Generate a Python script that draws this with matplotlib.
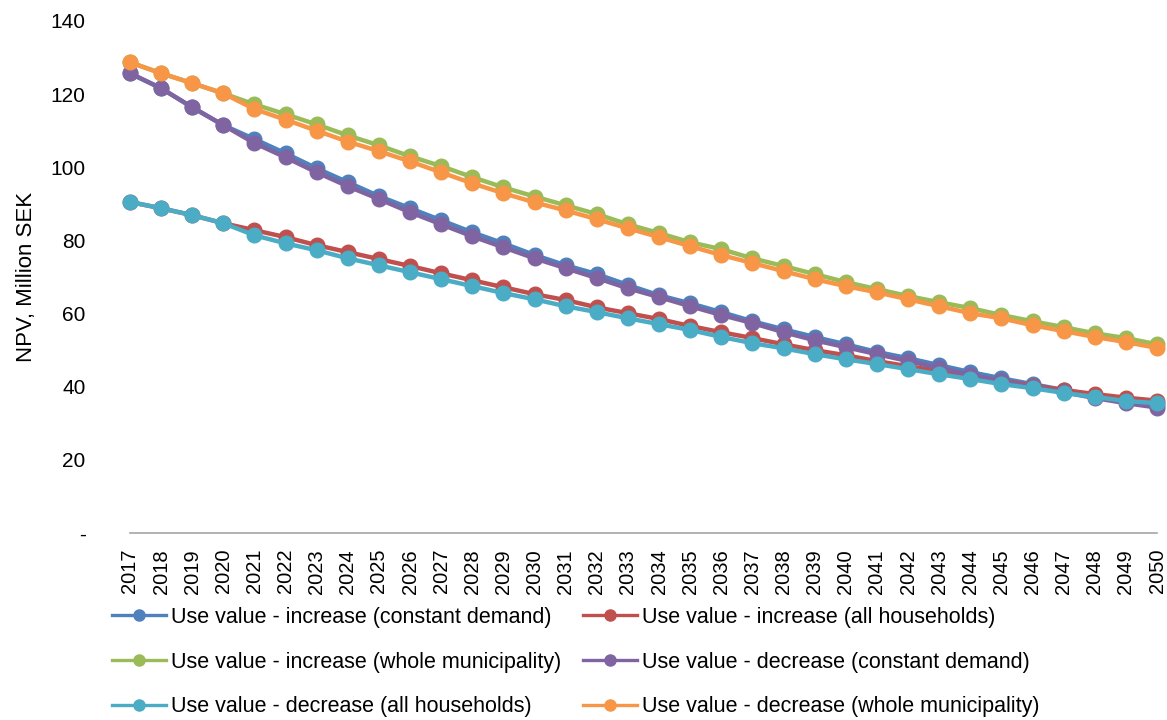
import matplotlib
matplotlib.use('Agg')
import matplotlib.pyplot as plt
from matplotlib.lines import Line2D
import numpy as np

plt.rcParams['font.family'] = ['Liberation Sans', 'DejaVu Sans']

# NPV per year, million SEK
years = list(range(2017, 2051))

inc_constant = [125.7, 121.6, 116.4, 111.5, 107.7, 103.8, 99.7, 95.9, 92.1, 88.8,
                85.5, 82.2, 79.2, 76.0, 73.2, 70.8, 67.8, 65.0, 62.8, 60.4,
                57.9, 55.7, 53.6, 51.6, 49.5, 47.8, 45.9, 44.0, 42.3, 40.7,
                39.1, 37.7, 36.3, 35.0]
inc_households = [90.5, 88.8, 86.9, 84.7, 82.8, 80.9, 78.7, 76.8, 74.9, 73.0,
                  71.0, 69.1, 67.2, 65.3, 63.7, 61.7, 60.1, 58.5, 56.6, 54.9,
                  53.3, 51.6, 50.0, 48.6, 47.0, 45.6, 44.3, 42.9, 41.6, 40.3,
                  39.1, 38.0, 37.0, 36.2]
inc_municipality = [128.7, 125.7, 123.0, 120.2, 117.2, 114.5, 111.7, 108.7, 106.0, 103.0,
                    100.3, 97.3, 94.5, 92.0, 89.6, 87.2, 84.4, 82.0, 79.5, 77.6,
                    75.1, 73.0, 70.8, 68.6, 66.7, 64.8, 63.1, 61.5, 59.6, 57.9,
                    56.3, 54.6, 53.3, 51.6]
dec_constant = [125.7, 121.6, 116.4, 111.5, 106.6, 102.7, 98.6, 94.8, 91.3, 87.7,
                84.4, 81.1, 78.1, 75.1, 72.4, 69.7, 66.9, 64.5, 62.0, 59.6,
                57.4, 54.9, 52.7, 50.8, 48.9, 47.0, 45.1, 43.2, 41.5, 39.9,
                38.5, 36.9, 35.5, 34.3]
dec_households = [90.5, 88.8, 86.9, 84.7, 81.4, 79.2, 77.3, 75.1, 73.2, 71.3,
                  69.4, 67.5, 65.6, 63.9, 62.0, 60.4, 58.7, 57.1, 55.5, 53.6,
                  51.9, 50.5, 48.9, 47.5, 46.2, 44.8, 43.4, 42.1, 40.7, 39.6,
                  38.3, 37.2, 36.1, 35.5]
dec_municipality = [128.7, 125.7, 123.0, 120.2, 115.9, 113.0, 110.0, 107.0, 104.4, 101.6,
                    98.6, 95.6, 92.9, 90.4, 88.2, 85.8, 83.3, 80.9, 78.4, 76.0,
                    73.8, 71.6, 69.4, 67.5, 65.8, 63.9, 62.0, 60.1, 58.7, 56.8,
                    55.2, 53.6, 52.2, 50.6]

series = [
    ('Use value - increase (constant demand)', inc_constant, '#4F81BD'),
    ('Use value - increase (all households)', inc_households, '#C0504D'),
    ('Use value - increase (whole municipality)', inc_municipality, '#9BBB59'),
    ('Use value - decrease (constant demand)', dec_constant, '#8064A2'),
    ('Use value - decrease (all households)', dec_households, '#4BACC6'),
    ('Use value - decrease (whole municipality)', dec_municipality, '#F79646'),
]

W, H = 1167, 720
fig = plt.figure(figsize=(W / 100, H / 100), dpi=100)
ax = fig.add_axes([130 / W, 1 - 533 / H, (1157 - 130) / W, (533 - 21) / H])

x = np.arange(len(years))
for label, vals, color in series:
    ax.plot(x, vals, color=color, lw=3.2, marker='o', markersize=10.5,
            label=label, clip_on=False)

ax.set_xlim(0, len(years) - 1)
ax.set_ylim(0, 140)
ax.set_yticks(np.arange(0, 141, 20))
ax.set_yticklabels(['-'] + [str(v) for v in range(20, 141, 20)], fontsize=15)
ax.set_xticks(x)
ax.set_xticklabels([str(y) for y in years], rotation=90, fontsize=14.5)
ax.tick_params(axis='x', length=0, pad=11.5)
ax.tick_params(axis='y', length=0, pad=32)

for side in ['top', 'right', 'left']:
    ax.spines[side].set_visible(False)
ax.spines['bottom'].set_color('#A6A6A6')
ax.spines['bottom'].set_linewidth(1.2)

ax.set_ylabel('NPV, Million SEK', fontsize=16, labelpad=10)

# legend keys: thinner line, smaller dot
keys = [Line2D([], [], color=c, lw=2.4, marker='o', markersize=8) for _, _, c in series]

# two legend columns, each placed on its own
leg_kw = dict(loc='upper left', frameon=False, fontsize=15.5, handlelength=2.5,
              handletextpad=0.25, labelspacing=1.1, borderpad=0, borderaxespad=0)
left = [0, 2, 4]
right = [1, 3, 5]
fig.legend([keys[i] for i in left], [series[i][0] for i in left],
           bbox_to_anchor=(112 / W, 1 - 607 / H), **leg_kw)
fig.legend([keys[i] for i in right], [series[i][0] for i in right],
           bbox_to_anchor=(583 / W, 1 - 607 / H), **leg_kw)

plt.savefig('out.png', dpi=100)
